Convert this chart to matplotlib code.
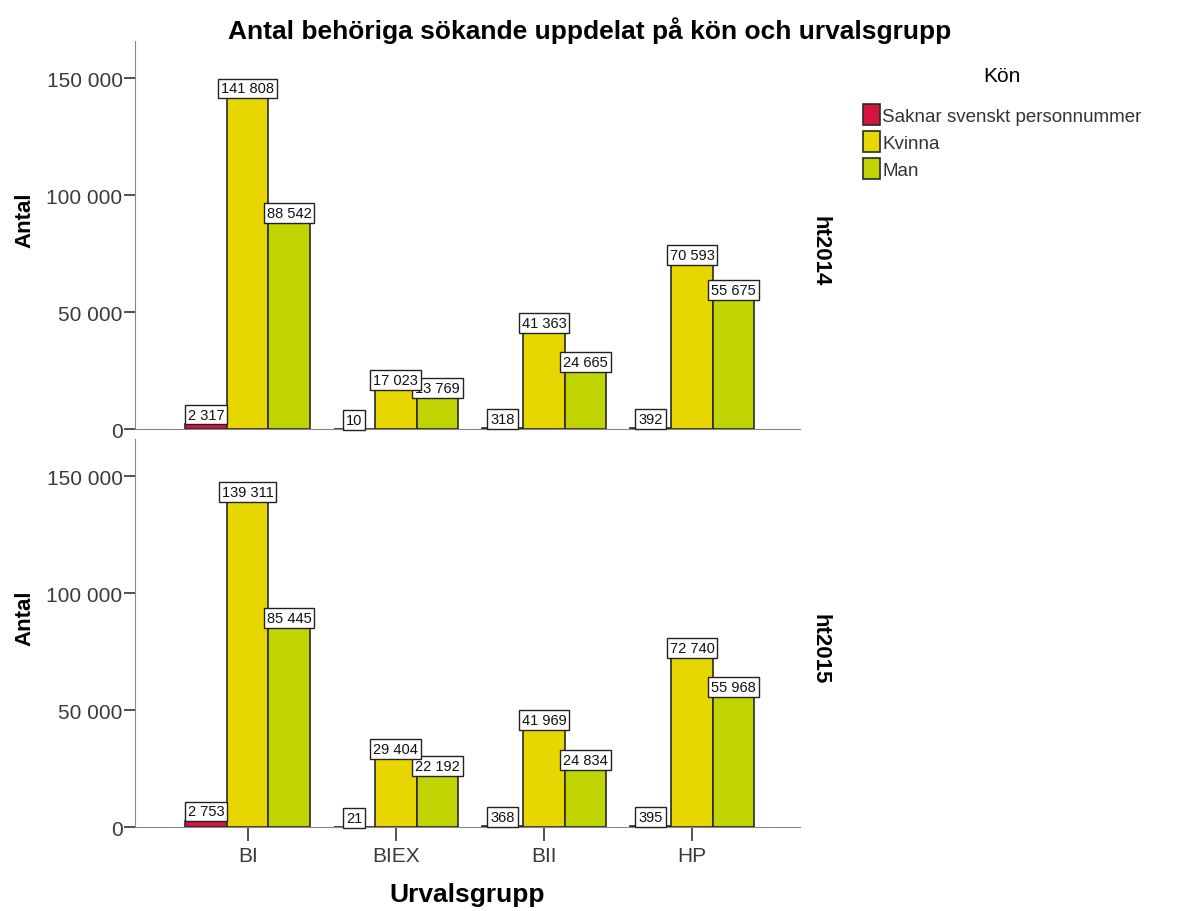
import numpy as np
import matplotlib.pyplot as plt

plt.rcParams["font.family"] = ["Liberation Sans", "DejaVu Sans"]

groups = ["BI", "BIEX", "BII", "HP"]
genders = ["Saknar svenskt personnummer", "Kvinna", "Man"]
colors = ["#d4163f", "#e8d600", "#bfd400"]
terms = ["ht2014", "ht2015"]

saknar_2014 = [2317, 10, 318, 392]
kvinna_2014 = [141808, 17023, 41363, 70593]
man_2014 = [88542, 13769, 24665, 55675]

saknar_2015 = [2753, 21, 368, 395]
kvinna_2015 = [139311, 29404, 41969, 72740]
man_2015 = [85445, 22192, 24834, 55968]

data = {
    "ht2014": [saknar_2014, kvinna_2014, man_2014],
    "ht2015": [saknar_2015, kvinna_2015, man_2015],
}


def fmt(v):
    return f"{int(v):,}".replace(",", " ")


fig = plt.figure(figsize=(11.92, 9.12), dpi=100)
ax_top = fig.add_axes([0.1133, 0.5285, 0.558, 0.4254])
ax_bot = fig.add_axes([0.1133, 0.0921, 0.558, 0.4254])

x = np.arange(len(groups))
width = 0.28
label_z = [6, 8, 5]  # kvinna labels on top

for ax, term in zip([ax_top, ax_bot], terms):
    for i, (vals, col) in enumerate(zip(data[term], colors)):
        pos = x + (i - 1) * width
        ax.bar(pos, vals, width, color=col, edgecolor="#2a2a2a", linewidth=1.2,
               label=genders[i], zorder=3)
        for px, v in zip(pos, vals):
            ax.annotate(fmt(v), (px, v), xytext=(0, 1.5), textcoords="offset points",
                        ha="center", va="bottom", fontsize=10.5, color="#111111",
                        zorder=label_z[i],
                        bbox=dict(boxstyle="square,pad=0.2", fc="white",
                                  ec="#222222", lw=1.0))

    ax.set_xlim(-0.76, 3.73)
    ax.set_ylim(0, 166000)
    ax.set_yticks([0, 50000, 100000, 150000])
    ax.set_yticklabels([fmt(t) for t in [0, 50000, 100000, 150000]],
                       fontsize=15, color="#3a3a3a")
    ax.spines["top"].set_visible(False)
    ax.spines["right"].set_visible(False)
    ax.spines["left"].set_color("#888888")
    ax.spines["bottom"].set_color("#888888")
    ax.tick_params(axis="y", length=8, width=1.2, color="#333333", pad=1)
    ax.set_ylabel("Antal", fontsize=16, fontweight="bold")
    ax.yaxis.set_label_coords(-0.15, 0.54)
    ax.text(1.03, 0.46, term, transform=ax.transAxes, rotation=-90,
            ha="center", va="center", fontsize=16, fontweight="bold")

ax_top.set_xticks([])
ax_bot.set_xticks(x)
ax_bot.set_xticklabels(groups, fontsize=15, color="#3a3a3a")
ax_bot.tick_params(axis="x", length=10, width=1.2, color="#333333", pad=4)
ax_bot.set_xlabel("Urvalsgrupp", fontsize=19, fontweight="bold", labelpad=12)

fig.text(0.495, 0.967, "Antal behöriga sökande uppdelat på kön och urvalsgrupp",
         ha="center", va="center", fontsize=19, fontweight="bold")

handles, labels = ax_top.get_legend_handles_labels()
leg = fig.legend(handles, labels, loc="upper left", bbox_to_anchor=(0.718, 0.935),
                 frameon=False, fontsize=13.5, title="Kön", title_fontsize=15,
                 handlelength=0.9, handleheight=1.3, handletextpad=0.1,
                 labelspacing=0.35, borderaxespad=0)
leg._legend_box.align = "center"
leg._legend_box.sep = 14
for t in leg.get_texts():
    t.set_color("#333333")

fig.savefig("out.png", dpi=100)
